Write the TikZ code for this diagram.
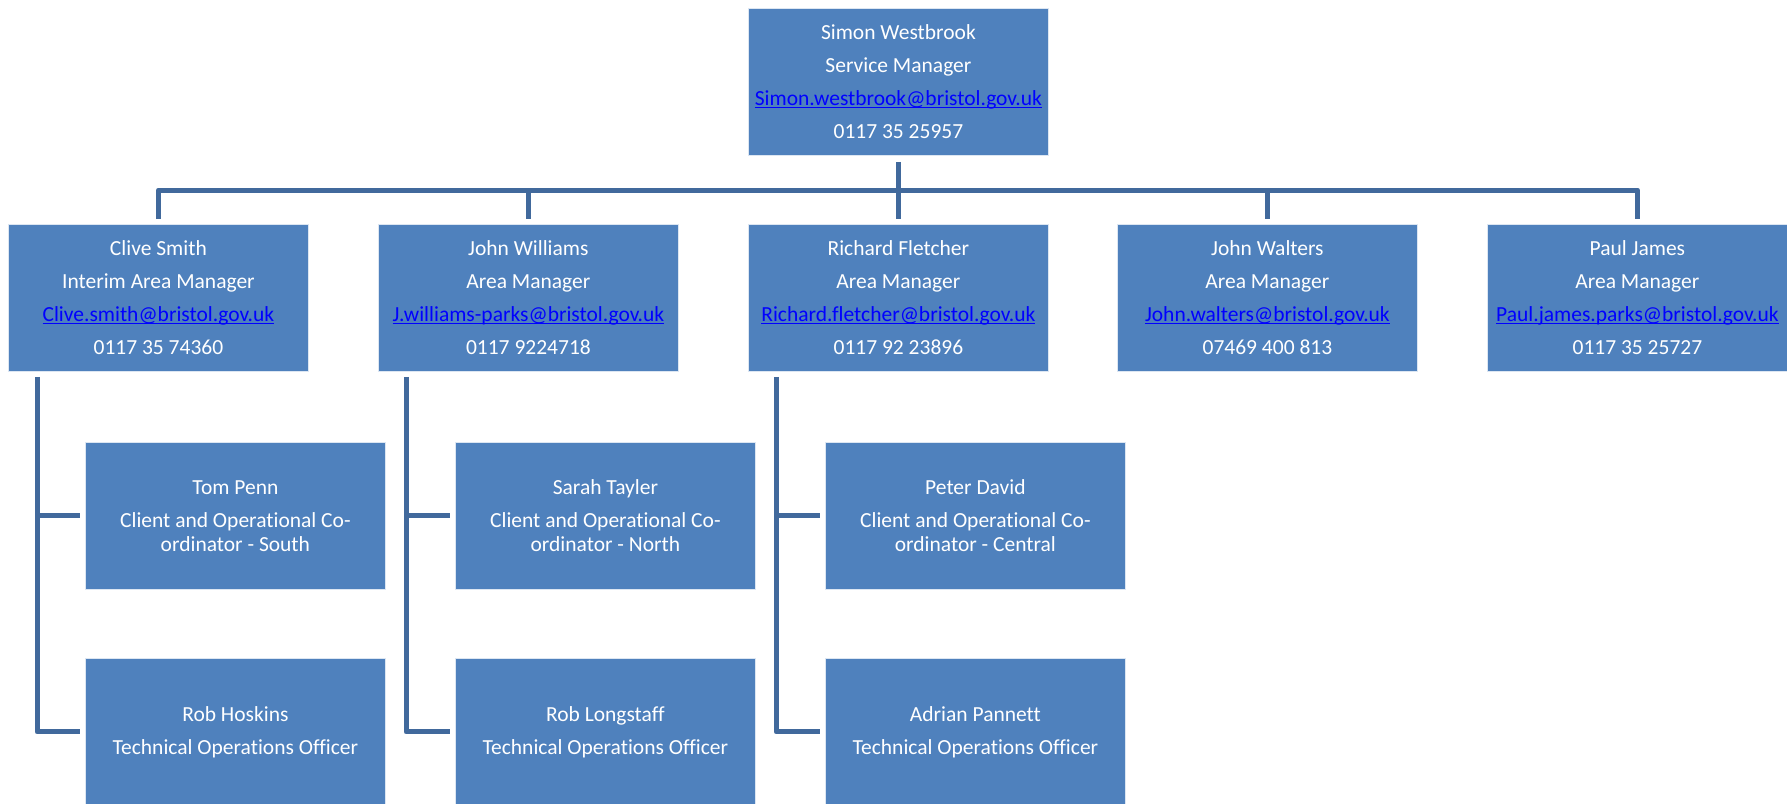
\documentclass[tikz,border=0pt]{standalone}
\usepackage{fontspec}
\setmainfont[Ligatures=NoCommon]{Carlito}
\definecolor{boxfill}{HTML}{4F81BD}
\definecolor{connc}{HTML}{41699C}
\definecolor{linkc}{HTML}{0000FF}
\newcommand{\mail}[1]{{\color{linkc}\setbox0\hbox{#1}\rlap{\rule[-2.6pt]{\wd0}{1.2pt}}\box0}}
\begin{document}
\begin{tikzpicture}[x=1pt,y=-1pt,
  box/.style={fill=boxfill, draw=white!80!boxfill, line width=0.8pt,
    minimum width=300pt, minimum height=147pt, inner sep=0pt,
    anchor=north west, align=center, text=white,
    font=\fontsize{21.5}{24}\selectfont},
  conn/.style={draw=connc, line width=5pt, line join=round}]
\useasboundingbox (0,0) rectangle (1787,803);

% top
\node[box] (top) at (748,8) {Simon Westbrook\\[9pt]Service Manager\\[9pt]\mail{Simon.westbrook@bristol.gov.uk}\\[9pt]0117 35 25957};

% area managers
\node[box] (cs) at (8,224) {Clive Smith\\[9pt]Interim Area Manager\\[9pt]\mail{Clive.smith@bristol.gov.uk}\\[9pt]0117 35 74360};
\node[box] (jw) at (378,224) {John Williams\\[9pt]Area Manager\\[9pt]\mail{J.williams-parks@bristol.gov.uk}\\[9pt]0117 9224718};
\node[box] (rf) at (748,224) {Richard Fletcher\\[9pt]Area Manager\\[9pt]\mail{Richard.fletcher@bristol.gov.uk}\\[9pt]0117 92 23896};
\node[box] (jwa) at (1117,224) {John Walters\\[9pt]Area Manager\\[9pt]\mail{John.walters@bristol.gov.uk}\\[9pt]07469 400 813};
\node[box] (pj) at (1487,224) {Paul James\\[9pt]Area Manager\\[9pt]\mail{Paul.james.parks@bristol.gov.uk}\\[9pt]0117 35 25727};

% coordinators
\node[box] (tp) at (85,442) {Tom Penn\\[9pt]Client and Operational Co-\\ordinator - South};
\node[box] (st) at (455,442) {Sarah Tayler\\[9pt]Client and Operational Co-\\ordinator - North};
\node[box] (pd) at (825,442) {Peter David\\[9pt]Client and Operational Co-\\ordinator - Central};

% officers
\node[box] (rh) at (85,658) {Rob Hoskins\\[9pt]Technical Operations Officer};
\node[box] (rl) at (455,658) {Rob Longstaff\\[9pt]Technical Operations Officer};
\node[box] (ap) at (825,658) {Adrian Pannett\\[9pt]Technical Operations Officer};

% top connectors
\coordinate (hb) at (0,190);
\draw[conn] ([yshift=-6pt]top.south) -- ([yshift=5pt]rf.north);
\draw[conn] ([yshift=5pt]cs.north) -- (cs.north |- hb) -- (pj.north |- hb) -- ([yshift=5pt]pj.north);
\draw[conn] (jw.north |- hb) -- ([yshift=5pt]jw.north);
\draw[conn] (jwa.north |- hb) -- ([yshift=5pt]jwa.north);

% lower connectors
\coordinate (csv) at ([xshift=29pt,yshift=-5pt]cs.south west);
\coordinate (jwv) at ([xshift=28pt,yshift=-5pt]jw.south west);
\coordinate (rfv) at ([xshift=28pt,yshift=-5pt]rf.south west);
\draw[conn] (csv) |- ([xshift=-5pt]rh.west);
\draw[conn] (csv |- tp.west) -- ([xshift=-5pt]tp.west);
\draw[conn] (jwv) |- ([xshift=-5pt]rl.west);
\draw[conn] (jwv |- st.west) -- ([xshift=-5pt]st.west);
\draw[conn] (rfv) |- ([xshift=-5pt]ap.west);
\draw[conn] (rfv |- pd.west) -- ([xshift=-5pt]pd.west);
\end{tikzpicture}
\end{document}
